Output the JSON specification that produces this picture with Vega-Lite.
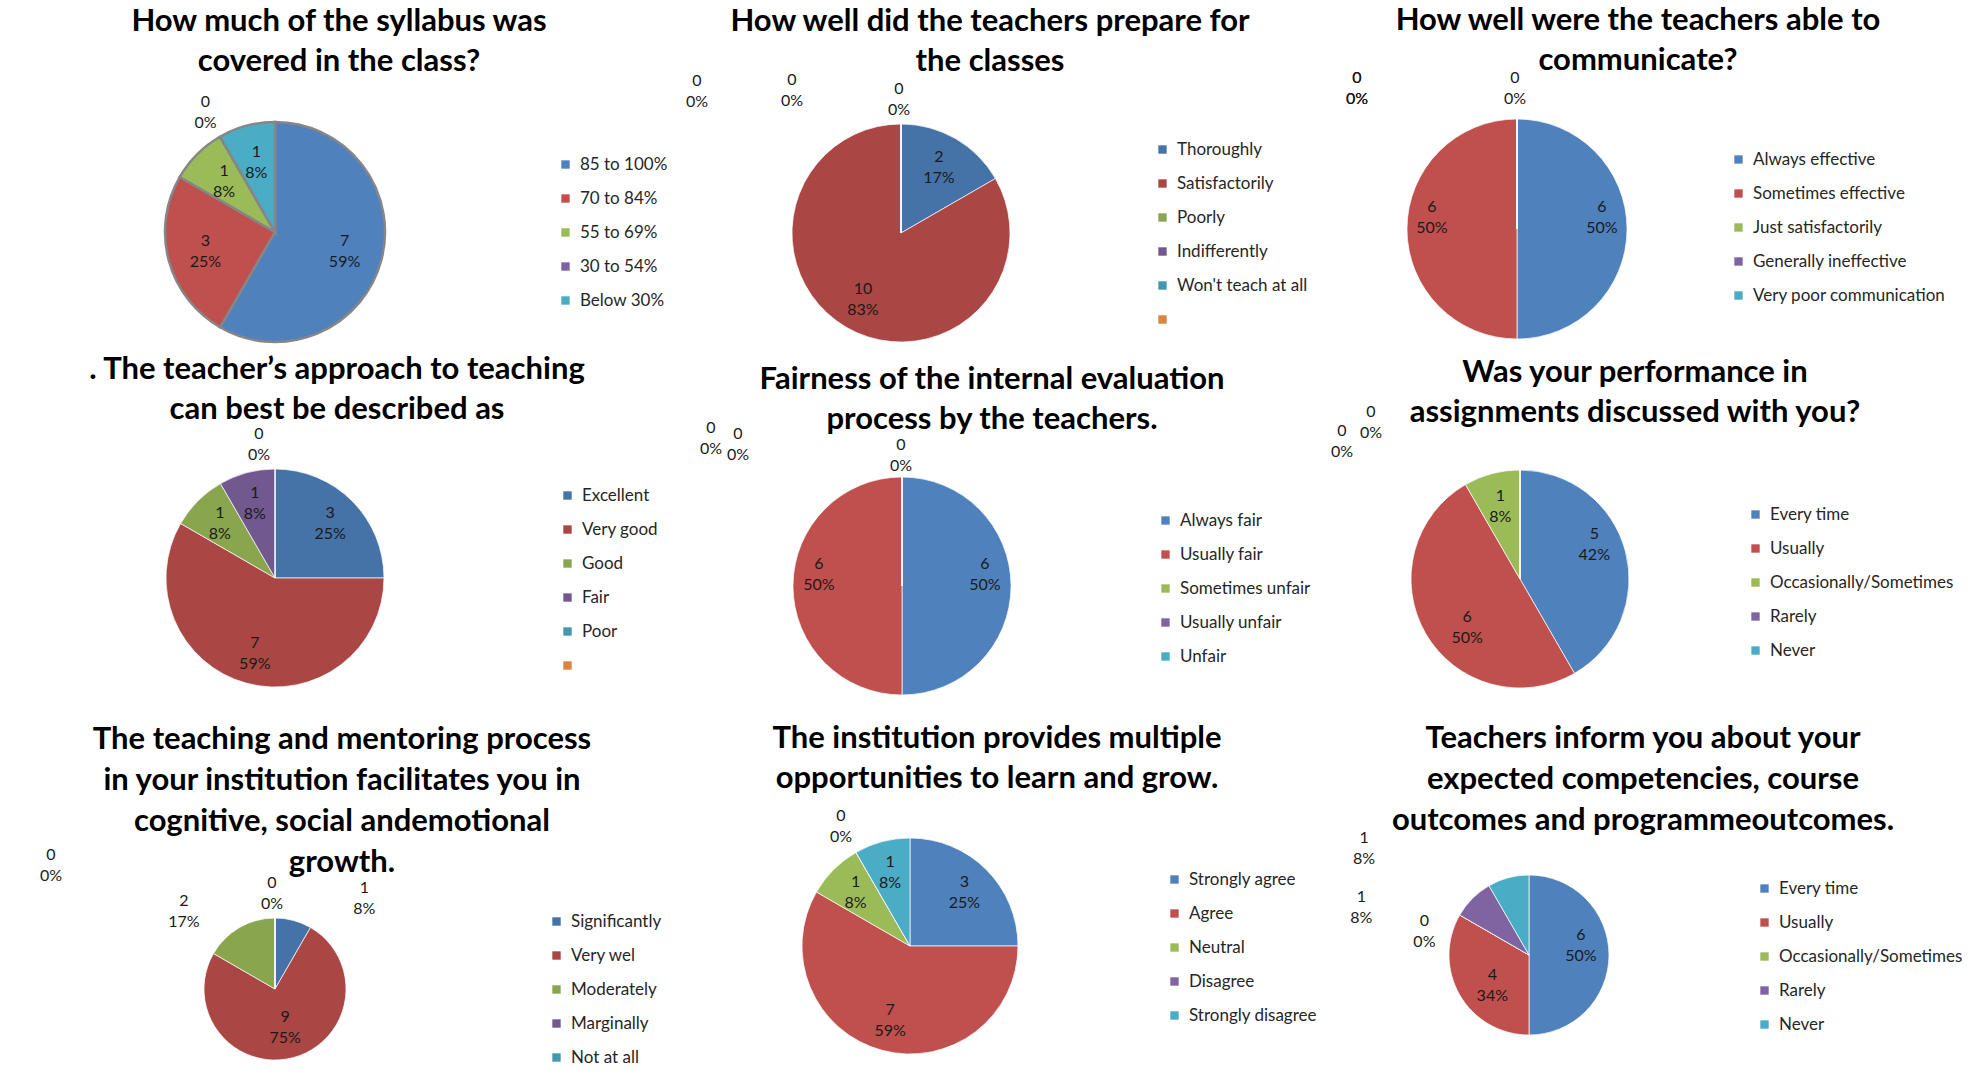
{
  "$schema": "https://vega.github.io/schema/vega-lite/v6.json",
  "padding": {"top": 5, "left": 0, "right": 0, "bottom": 0},
  "background": "white",
  "bounds": "flush",
  "align": "each",
  "columns": 3,
  "spacing": 0,
  "resolve": {"scale": {"color": "independent", "theta": "independent"}, "legend": {"color": "independent"}},
  "config": {
    "view": {"stroke": null},
    "font": "Lato",
    "title": {"font": "Lato", "fontSize": 31, "fontWeight": "bold", "color": "#000000", "lineHeight": 40, "baseline": "top", "frame": "group", "anchor": "middle"},
    "legend": {"orient": "none", "symbolType": "square", "symbolSize": 70, "labelFont": "Lato", "labelFontSize": 17, "labelColor": "#262626", "labelLimit": 400, "rowPadding": 16, "labelOffset": 6, "symbolStrokeWidth": 0, "padding": 0},
    "text": {"font": "Lato", "fontSize": 16, "lineHeight": 21, "lineBreak": "\n", "align": "center", "baseline": "middle"}
  },
  "datasets": {
    "d1": [
      {"n": 1, "cat": "85 to 100%", "v": 7, "lab": "7\n59%"},
      {"n": 2, "cat": "70 to 84%", "v": 3, "lab": "3\n25%"},
      {"n": 3, "cat": "55 to 69%", "v": 1, "lab": "1\n8%"},
      {"n": 4, "cat": "30 to 54%", "v": 0, "lab": "0\n0%"},
      {"n": 5, "cat": "Below 30%", "v": 1, "lab": "1\n8%"}
    ],
    "d2": [
      {"n": 1, "cat": "Thoroughly", "v": 2, "lab": "2\n17%"},
      {"n": 2, "cat": "Satisfactorily", "v": 10, "lab": "10\n83%"},
      {"n": 3, "cat": "Poorly", "v": 0, "lab": "0\n0%"},
      {"n": 4, "cat": "Indifferently", "v": 0, "lab": "0\n0%"},
      {"n": 5, "cat": "Won't teach at all", "v": 0, "lab": "0\n0%"}
    ],
    "d3": [
      {"n": 1, "cat": "Always  effective", "v": 6, "lab": "6\n50%"},
      {"n": 2, "cat": "Sometimes effective", "v": 6, "lab": "6\n50%"},
      {"n": 3, "cat": "Just satisfactorily", "v": 0, "lab": "0\n0%"},
      {"n": 4, "cat": "Generally ineffective", "v": 0, "lab": "0\n0%"},
      {"n": 5, "cat": "Very poor communication", "v": 0, "lab": "0\n0%"}
    ],
    "d4": [
      {"n": 1, "cat": "Excellent", "v": 3, "lab": "3\n25%"},
      {"n": 2, "cat": "Very good", "v": 7, "lab": "7\n59%"},
      {"n": 3, "cat": "Good", "v": 1, "lab": "1\n8%"},
      {"n": 4, "cat": "Fair", "v": 1, "lab": "1\n8%"},
      {"n": 5, "cat": "Poor", "v": 0, "lab": "0\n0%"}
    ],
    "d5": [
      {"n": 1, "cat": "Always  fair", "v": 6, "lab": "6\n50%"},
      {"n": 2, "cat": "Usually fair", "v": 6, "lab": "6\n50%"},
      {"n": 3, "cat": "Sometimes unfair", "v": 0, "lab": "0\n0%"},
      {"n": 4, "cat": "Usually unfair", "v": 0, "lab": "0\n0%"},
      {"n": 5, "cat": "Unfair", "v": 0, "lab": "0\n0%"}
    ],
    "d6": [
      {"n": 1, "cat": "Every time", "v": 5, "lab": "5\n42%"},
      {"n": 2, "cat": "Usually", "v": 6, "lab": "6\n50%"},
      {"n": 3, "cat": "Occasionally/Sometimes", "v": 1, "lab": "1\n8%"},
      {"n": 4, "cat": "Rarely", "v": 0, "lab": "0\n0%"},
      {"n": 5, "cat": "Never", "v": 0, "lab": "0\n0%"}
    ],
    "d7": [
      {"n": 1, "cat": "Significantly", "v": 1, "lab": "1\n8%"},
      {"n": 2, "cat": "Very wel", "v": 9, "lab": "9\n75%"},
      {"n": 3, "cat": "Moderately", "v": 2, "lab": "2\n17%"},
      {"n": 4, "cat": "Marginally", "v": 0, "lab": "0\n0%"},
      {"n": 5, "cat": "Not at all", "v": 0, "lab": "0\n0%"}
    ],
    "d8": [
      {"n": 1, "cat": "Strongly agree", "v": 3, "lab": "3\n25%"},
      {"n": 2, "cat": "Agree", "v": 7, "lab": "7\n59%"},
      {"n": 3, "cat": "Neutral", "v": 1, "lab": "1\n8%"},
      {"n": 4, "cat": "Disagree", "v": 0, "lab": "0\n0%"},
      {"n": 5, "cat": "Strongly disagree", "v": 1, "lab": "1\n8%"}
    ],
    "d9": [
      {"n": 1, "cat": "Every time", "v": 6, "lab": "6\n50%"},
      {"n": 2, "cat": "Usually", "v": 4, "lab": "4\n34%"},
      {"n": 3, "cat": "Occasionally/Sometimes", "v": 0, "lab": "0\n0%"},
      {"n": 4, "cat": "Rarely", "v": 1, "lab": "1\n8%"},
      {"n": 5, "cat": "Never", "v": 1, "lab": "1\n8%"}
    ]
  },
  "concat": [
    {
      "width": 548, "height": 64,
      "title": {"text": ["How much of the syllabus was", "covered in the class?"], "offset": 2, "dx": 64},
      "data": {"name": "d1"},
      "encoding": {
        "theta": {"field": "v", "type": "quantitative", "stack": true},
        "order": {"field": "n", "type": "quantitative"},
        "color": {"field": "cat", "type": "nominal", "scale": {"domain": ["85 to 100%", "70 to 84%", "55 to 69%", "30 to 54%", "Below 30%"], "range": ["#4F81BD", "#C0504D", "#9BBB59", "#8064A2", "#4BACC6"]}, "legend": {"title": null, "legendX": 556, "legendY": -44}}
      },
      "layer": [
        {"mark": {"type": "arc", "radius": 110, "stroke": "#868686", "strokeWidth": 2.5}},
        {"mark": {"type": "text", "radius": 72, "dy": -10}, "encoding": {"text": {"condition": {"test": "datum.v > 0", "field": "lab"}, "value": ""}, "color": {"value": "#1a1a1a"}, "detail": {"field": "cat"}}},
        {"mark": {"type": "text", "radius": 139, "dy": -10}, "encoding": {"text": {"condition": {"test": "datum.v == 0", "field": "lab"}, "value": ""}, "color": {"value": "#1a1a1a"}, "detail": {"field": "cat"}}}
      ]
    },
    {
      "width": 704, "height": 66,
      "title": {"text": ["How well did the teachers prepare for", "the classes"], "offset": -6, "dx": 89},
      "data": {"name": "d2"},
      "encoding": {
        "theta": {"field": "v", "type": "quantitative", "stack": true},
        "order": {"field": "n", "type": "quantitative"},
        "color": {"field": "cat", "type": "nominal", "scale": {"domain": ["Thoroughly", "Satisfactorily", "Poorly", "Indifferently", "Won't teach at all", ""], "range": ["#4572A7", "#AA4643", "#89A54E", "#71588F", "#4198AF", "#DB843D"]}, "legend": {"title": null, "legendX": 605, "legendY": -59}}
      },
      "layer": [
        {"mark": {"type": "arc", "radius": 109, "stroke": "white", "strokeWidth": 0.7}},
        {"mark": {"type": "text", "radius": 76, "dy": -10}, "encoding": {"text": {"condition": {"test": "datum.v > 0", "field": "lab"}, "value": ""}, "color": {"value": "#1a1a1a"}, "detail": {"field": "cat"}}},
        {"mark": {"type": "text", "radius": 134, "dx": -2, "dy": -10}, "encoding": {"text": {"condition": {"test": "datum.n == 3", "field": "lab"}, "value": ""}, "color": {"value": "#1a1a1a"}, "detail": {"field": "cat"}}},
        {"mark": {"type": "text", "radius": 134, "dx": -109, "dy": -19}, "encoding": {"text": {"condition": {"test": "datum.n == 4", "field": "lab"}, "value": ""}, "color": {"value": "#1a1a1a"}, "detail": {"field": "cat"}}},
        {"mark": {"type": "text", "radius": 134, "dx": -204, "dy": -18}, "encoding": {"text": {"condition": {"test": "datum.n == 5", "field": "lab"}, "value": ""}, "color": {"value": "#1a1a1a"}, "detail": {"field": "cat"}}}
      ]
    },
    {
      "width": 492, "height": 58,
      "title": {"text": ["How well were the teachers able to", "communicate?"], "offset": -7, "dx": 121},
      "data": {"name": "d3"},
      "encoding": {
        "theta": {"field": "v", "type": "quantitative", "stack": true},
        "order": {"field": "n", "type": "quantitative"},
        "color": {"field": "cat", "type": "nominal", "scale": {"domain": ["Always  effective", "Sometimes effective", "Just satisfactorily", "Generally ineffective", "Very poor communication"], "range": ["#4F81BD", "#C0504D", "#9BBB59", "#8064A2", "#4BACC6"]}, "legend": {"title": null, "legendX": 459, "legendY": -49}}
      },
      "layer": [
        {"mark": {"type": "arc", "radius": 110, "stroke": "white", "strokeWidth": 0.7}},
        {"mark": {"type": "text", "radius": 85, "dy": -22}, "encoding": {"text": {"condition": {"test": "datum.v > 0", "field": "lab"}, "value": ""}, "color": {"value": "#1a1a1a"}, "detail": {"field": "cat"}}},
        {"mark": {"type": "text", "radius": 141, "dx": -2, "dy": -10}, "encoding": {"text": {"condition": {"test": "datum.n == 3", "field": "lab"}, "value": ""}, "color": {"value": "#1a1a1a"}, "detail": {"field": "cat"}}},
        {"mark": {"type": "text", "radius": 141, "dx": -160, "dy": -10}, "encoding": {"text": {"condition": {"test": "datum.n >= 4", "field": "lab"}, "value": ""}, "color": {"value": "#1a1a1a"}, "detail": {"field": "cat"}}}
      ]
    },
    {
      "width": 548, "height": 624,
      "title": {"text": [". The teacher’s approach to teaching", "can best be described as"], "offset": -160, "dx": 62},
      "data": {"name": "d4"},
      "encoding": {
        "theta": {"field": "v", "type": "quantitative", "stack": true},
        "order": {"field": "n", "type": "quantitative"},
        "color": {"field": "cat", "type": "nominal", "scale": {"domain": ["Excellent", "Very good", "Good", "Fair", "Poor", ""], "range": ["#4572A7", "#AA4643", "#89A54E", "#71588F", "#4198AF", "#DB843D"]}, "legend": {"title": null, "legendX": 558, "legendY": 221}}
      },
      "layer": [
        {"mark": {"type": "arc", "radius": 109, "stroke": "white", "strokeWidth": 0.7}},
        {"mark": {"type": "text", "radius": 78, "dy": -10}, "encoding": {"text": {"condition": {"test": "datum.v > 0", "field": "lab"}, "value": ""}, "color": {"value": "#1a1a1a"}, "detail": {"field": "cat"}}},
        {"mark": {"type": "text", "radius": 134, "dx": -16, "dy": -10}, "encoding": {"text": {"condition": {"test": "datum.v == 0", "field": "lab"}, "value": ""}, "color": {"value": "#1a1a1a"}, "detail": {"field": "cat"}}}
      ]
    },
    {
      "width": 706, "height": 640,
      "title": {"text": ["Fairness of the internal evaluation", "process by the teachers."], "offset": -170, "dx": 90},
      "data": {"name": "d5"},
      "encoding": {
        "theta": {"field": "v", "type": "quantitative", "stack": true},
        "order": {"field": "n", "type": "quantitative"},
        "color": {"field": "cat", "type": "nominal", "scale": {"domain": ["Always  fair", "Usually fair", "Sometimes unfair", "Usually unfair", "Unfair"], "range": ["#4F81BD", "#C0504D", "#9BBB59", "#8064A2", "#4BACC6"]}, "legend": {"title": null, "legendX": 608, "legendY": 246}}
      },
      "layer": [
        {"mark": {"type": "arc", "radius": 109, "stroke": "white", "strokeWidth": 0.7}},
        {"mark": {"type": "text", "radius": 83, "dy": -22}, "encoding": {"text": {"condition": {"test": "datum.v > 0", "field": "lab"}, "value": ""}, "color": {"value": "#1a1a1a"}, "detail": {"field": "cat"}}},
        {"mark": {"type": "text", "radius": 135, "dx": -1, "dy": -6}, "encoding": {"text": {"condition": {"test": "datum.n == 3", "field": "lab"}, "value": ""}, "color": {"value": "#1a1a1a"}, "detail": {"field": "cat"}}},
        {"mark": {"type": "text", "radius": 135, "dx": -164, "dy": -17}, "encoding": {"text": {"condition": {"test": "datum.n == 4", "field": "lab"}, "value": ""}, "color": {"value": "#1a1a1a"}, "detail": {"field": "cat"}}},
        {"mark": {"type": "text", "radius": 135, "dx": -191, "dy": -23}, "encoding": {"text": {"condition": {"test": "datum.n == 5", "field": "lab"}, "value": ""}, "color": {"value": "#1a1a1a"}, "detail": {"field": "cat"}}}
      ]
    },
    {
      "width": 498, "height": 626,
      "title": {"text": ["Was your performance in", "assignments discussed with you?"], "offset": -163, "dx": 115},
      "data": {"name": "d6"},
      "encoding": {
        "theta": {"field": "v", "type": "quantitative", "stack": true},
        "order": {"field": "n", "type": "quantitative"},
        "color": {"field": "cat", "type": "nominal", "scale": {"domain": ["Every time", "Usually", "Occasionally/Sometimes", "Rarely", "Never"], "range": ["#4F81BD", "#C0504D", "#9BBB59", "#8064A2", "#4BACC6"]}, "legend": {"title": null, "legendX": 476, "legendY": 240}}
      },
      "layer": [
        {"mark": {"type": "arc", "radius": 109, "stroke": "white", "strokeWidth": 0.7}},
        {"mark": {"type": "text", "radius": 80, "dx": -3, "dy": -24}, "encoding": {"text": {"condition": {"test": "datum.n == 1", "field": "lab"}, "value": ""}, "color": {"value": "#1a1a1a"}, "detail": {"field": "cat"}}},
        {"mark": {"type": "text", "radius": 76, "dx": 13, "dy": 0}, "encoding": {"text": {"condition": {"test": "datum.n == 2", "field": "lab"}, "value": ""}, "color": {"value": "#1a1a1a"}, "detail": {"field": "cat"}}},
        {"mark": {"type": "text", "radius": 76, "dy": -10}, "encoding": {"text": {"condition": {"test": "datum.n == 3", "field": "lab"}, "value": ""}, "color": {"value": "#1a1a1a"}, "detail": {"field": "cat"}}},
        {"mark": {"type": "text", "radius": 140, "dx": -149, "dy": -27}, "encoding": {"text": {"condition": {"test": "datum.n == 4", "field": "lab"}, "value": ""}, "color": {"value": "#1a1a1a"}, "detail": {"field": "cat"}}},
        {"mark": {"type": "text", "radius": 140, "dx": -178, "dy": -8}, "encoding": {"text": {"condition": {"test": "datum.n == 5", "field": "lab"}, "value": ""}, "color": {"value": "#1a1a1a"}, "detail": {"field": "cat"}}}
      ]
    },
    {
      "width": 548, "height": 166,
      "title": {"text": ["The teaching and mentoring process", "in your institution facilitates you in", "cognitive, social andemotional", "growth."], "offset": -32, "dx": 67, "lineHeight": 41},
      "data": {"name": "d7"},
      "encoding": {
        "theta": {"field": "v", "type": "quantitative", "stack": true},
        "order": {"field": "n", "type": "quantitative"},
        "color": {"field": "cat", "type": "nominal", "scale": {"domain": ["Significantly", "Very wel", "Moderately", "Marginally", "Not at all"], "range": ["#4572A7", "#AA4643", "#89A54E", "#71588F", "#4198AF"]}, "legend": {"title": null, "legendX": 547, "legendY": 7}}
      },
      "layer": [
        {"mark": {"type": "arc", "radius": 71, "stroke": "white", "strokeWidth": 0.7}},
        {"mark": {"type": "text", "radius": 39, "dy": -10}, "encoding": {"text": {"condition": {"test": "datum.n == 2", "field": "lab"}, "value": ""}, "color": {"value": "#1a1a1a"}, "detail": {"field": "cat"}}},
        {"mark": {"type": "text", "radius": 98, "dx": 64, "dy": -6}, "encoding": {"text": {"condition": {"test": "datum.n == 1", "field": "lab"}, "value": ""}, "color": {"value": "#1a1a1a"}, "detail": {"field": "cat"}}},
        {"mark": {"type": "text", "radius": 90, "dx": -46, "dy": -10}, "encoding": {"text": {"condition": {"test": "datum.n == 3", "field": "lab"}, "value": ""}, "color": {"value": "#1a1a1a"}, "detail": {"field": "cat"}}},
        {"mark": {"type": "text", "radius": 96, "dx": -3, "dy": -10}, "encoding": {"text": {"condition": {"test": "datum.n == 4", "field": "lab"}, "value": ""}, "color": {"value": "#1a1a1a"}, "detail": {"field": "cat"}}},
        {"mark": {"type": "text", "radius": 100, "dx": -224, "dy": -34}, "encoding": {"text": {"condition": {"test": "datum.n == 5", "field": "lab"}, "value": ""}, "color": {"value": "#1a1a1a"}, "detail": {"field": "cat"}}}
      ]
    },
    {
      "width": 722, "height": 80,
      "title": {"text": ["The institution provides multiple", "opportunities to learn and grow."], "offset": 0, "dx": 87},
      "data": {"name": "d8"},
      "encoding": {
        "theta": {"field": "v", "type": "quantitative", "stack": true},
        "order": {"field": "n", "type": "quantitative"},
        "color": {"field": "cat", "type": "nominal", "scale": {"domain": ["Strongly agree", "Agree", "Neutral", "Disagree", "Strongly disagree"], "range": ["#4F81BD", "#C0504D", "#9BBB59", "#8064A2", "#4BACC6"]}, "legend": {"title": null, "legendX": 617, "legendY": -35}}
      },
      "layer": [
        {"mark": {"type": "arc", "radius": 108, "stroke": "white", "strokeWidth": 0.7}},
        {"mark": {"type": "text", "radius": 77, "dy": -10}, "encoding": {"text": {"condition": {"test": "datum.v > 0", "field": "lab"}, "value": ""}, "color": {"value": "#1a1a1a"}, "detail": {"field": "cat"}}},
        {"mark": {"type": "text", "radius": 138, "dy": -10}, "encoding": {"text": {"condition": {"test": "datum.v == 0", "field": "lab"}, "value": ""}, "color": {"value": "#1a1a1a"}, "detail": {"field": "cat"}}}
      ]
    },
    {
      "width": 516, "height": 98,
      "title": {"text": ["Teachers inform you about your", "expected competencies, course", "outcomes and programmeoutcomes."], "offset": -7, "dx": 114, "lineHeight": 41},
      "data": {"name": "d9"},
      "encoding": {
        "theta": {"field": "v", "type": "quantitative", "stack": true},
        "order": {"field": "n", "type": "quantitative"},
        "color": {"field": "cat", "type": "nominal", "scale": {"domain": ["Every time", "Usually", "Occasionally/Sometimes", "Rarely", "Never"], "range": ["#4F81BD", "#C0504D", "#9BBB59", "#8064A2", "#4BACC6"]}, "legend": {"title": null, "legendX": 485, "legendY": -26}}
      },
      "layer": [
        {"mark": {"type": "arc", "radius": 80, "stroke": "white", "strokeWidth": 0.7}},
        {"mark": {"type": "text", "radius": 52, "dy": -20}, "encoding": {"text": {"condition": {"test": "datum.n == 1", "field": "lab"}, "value": ""}, "color": {"value": "#1a1a1a"}, "detail": {"field": "cat"}}},
        {"mark": {"type": "text", "radius": 47, "dx": 4, "dy": -4}, "encoding": {"text": {"condition": {"test": "datum.n == 2", "field": "lab"}, "value": ""}, "color": {"value": "#1a1a1a"}, "detail": {"field": "cat"}}},
        {"mark": {"type": "text", "radius": 100, "dx": -18, "dy": 16}, "encoding": {"text": {"condition": {"test": "datum.n == 3", "field": "lab"}, "value": ""}, "color": {"value": "#1a1a1a"}, "detail": {"field": "cat"}}},
        {"mark": {"type": "text", "radius": 100, "dx": -97, "dy": 13}, "encoding": {"text": {"condition": {"test": "datum.n == 4", "field": "lab"}, "value": ""}, "color": {"value": "#1a1a1a"}, "detail": {"field": "cat"}}},
        {"mark": {"type": "text", "radius": 100, "dx": -139, "dy": -20}, "encoding": {"text": {"condition": {"test": "datum.n == 5", "field": "lab"}, "value": ""}, "color": {"value": "#1a1a1a"}, "detail": {"field": "cat"}}}
      ]
    }
  ]
}
